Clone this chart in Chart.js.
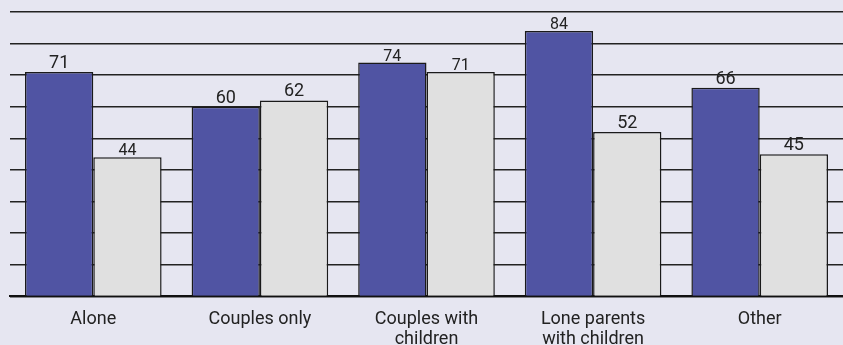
<!DOCTYPE html>
<html>
<head>
<meta charset="utf-8">
<script src="https://cdn.jsdelivr.net/npm/chart.js@4/dist/chart.umd.min.js"></script>
<style>
  html, body { margin: 0; padding: 0; background: #e6e6f1; }
  #wrap { width: 843px; height: 345px; }
</style>
</head>
<body>
<div id="wrap"><canvas id="householdChart" width="843" height="345"></canvas></div>
<script>
const categories = ['Alone', 'Couples only', ['Couples with', 'children'], ['Lone parents', 'with children'], 'Other'];
const seriesA = [71, 60, 74, 84, 66];
const seriesB = [44, 62, 71, 52, 45];

// labels that sit close to a gridline were set smaller in the original
const smallLabelsA = [false, false, true, true, false];
const smallLabelsB = [true, false, true, false, false];

const fontFamily = 'Roboto, "Liberation Sans", sans-serif';

const valueLabels = {
    id: 'valueLabels',
    afterDatasetsDraw(chart) {
        const ctx = chart.ctx;
        const smalls = [smallLabelsA, smallLabelsB];
        ctx.save();
        ctx.fillStyle = '#222';
        ctx.textAlign = 'center';
        ctx.textBaseline = 'alphabetic';
        chart.data.datasets.forEach((ds, di) => {
            chart.getDatasetMeta(di).data.forEach((bar, i) => {
                const small = smalls[di][i];
                ctx.font = (small ? '16px ' : '18px ') + fontFamily;
                ctx.fillText(ds.data[i], bar.x, bar.y - (small ? 2 : 4));
            });
        });
        ctx.restore();
    }
};

const chartData = {
    labels: categories,
    datasets: [{
        data: seriesA,
        backgroundColor: '#5054a3',
        borderColor: '#1a1a1a',
        borderWidth: 1.5,
    }, {
        data: seriesB,
        backgroundColor: '#e0e0e0',
        borderColor: '#1a1a1a',
        borderWidth: 1.5,
    }]
};

const chartConfig = {
    type: 'bar',
    data: chartData,
    options: {
        responsive: false,
        animation: false,
        categoryPercentage: 0.82,
        barPercentage: 1,
        layout: {
            padding: { left: 10, right: 0, top: 12, bottom: -17 }
        },
        scales: {
            x: {
                grid: { display: false, tickLength: 0 },
                border: { display: true, color: '#111', width: 2 },
                ticks: {
                    color: '#222',
                    padding: 13,
                    font: { family: fontFamily, size: 18, lineHeight: 1.1 },
                    maxRotation: 0,
                }
            },
            y: {
                min: 0,
                max: 90,
                ticks: { display: false, stepSize: 10 },
                border: { display: false },
                grid: { color: '#222', lineWidth: 1.5, drawTicks: false },
            }
        },
        plugins: {
            legend: { display: false },
            tooltip: { enabled: false },
        }
    },
    plugins: [valueLabels]
};

const ctx = document.getElementById('householdChart').getContext('2d');
new Chart(ctx, chartConfig);
</script>
</body>
</html>
